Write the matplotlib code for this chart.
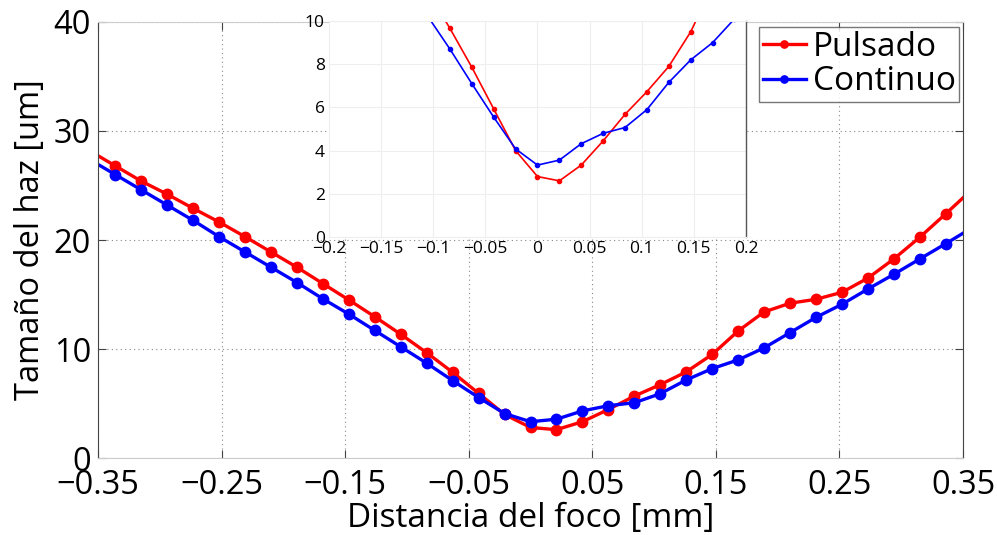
import matplotlib
matplotlib.use("Agg")
import matplotlib.pyplot as plt

plt.rcParams['font.family'] = ['Open Sans', 'DejaVu Sans']

# distance from focus [mm]
x_mm = [-0.357, -0.336, -0.315, -0.294, -0.273, -0.252, -0.231, -0.210, -0.189,
        -0.168, -0.147, -0.126, -0.105, -0.084, -0.063, -0.042, -0.021, 0.0,
        0.021, 0.042, 0.063, 0.084, 0.105, 0.126, 0.147, 0.168, 0.189, 0.210,
        0.231, 0.252, 0.273, 0.294, 0.315, 0.336, 0.357]

pulsado = [28.2, 26.8, 25.4, 24.2, 22.9, 21.65, 20.3, 18.9, 17.5,
           16.0, 14.5, 12.96, 11.35, 9.66, 7.86, 5.93, 4.0, 2.8,
           2.6, 3.33, 4.45, 5.68, 6.73, 7.9, 9.5, 11.65, 13.4, 14.2,
           14.56, 15.2, 16.5, 18.26, 20.25, 22.4, 24.6]

continuo = [27.4, 26.0, 24.6, 23.2, 21.8, 20.3, 18.9, 17.5, 16.1,
            14.6, 13.2, 11.7, 10.2, 8.7, 7.1, 5.55, 4.08, 3.33,
            3.56, 4.32, 4.8, 5.07, 5.9, 7.16, 8.2, 9.0, 10.1, 11.5,
            12.9, 14.1, 15.5, 16.85, 18.26, 19.66, 21.1]

main_xticks = [-0.35, -0.25, -0.15, -0.05, 0.05, 0.15, 0.25, 0.35]
main_xlabels = ['\u22120.35', '\u22120.25', '\u22120.15', '\u22120.05', '0.05', '0.15', '0.25', '0.35']
main_yticks = [0, 10, 20, 30, 40]

inset_xticks = [-0.2, -0.15, -0.1, -0.05, 0, 0.05, 0.1, 0.15, 0.2]
inset_xlabels = ['\u22120.2', '\u22120.15', '\u22120.1', '\u22120.05', '0', '0.05', '0.1', '0.15', '0.2']
inset_yticks = [0, 2, 4, 6, 8, 10]

fig = plt.figure(figsize=(9.97, 5.35), dpi=100)
ax = fig.add_axes([0.0983, 0.1439, 0.8676, 0.815])

ax.plot(x_mm, pulsado, '-o', color='#ff0000', lw=2.4, ms=7.5, label='Pulsado', clip_on=True)
ax.plot(x_mm, continuo, '-o', color='#0000ff', lw=2.4, ms=7.5, label='Continuo', clip_on=True)
ax.set_xlim(-0.35, 0.35)
ax.set_ylim(0, 40)
ax.set_xticks(main_xticks)
ax.set_xticklabels(main_xlabels)
ax.set_yticks(main_yticks)
ax.tick_params(direction='in', length=6, labelsize=23.5, top=True, right=True,
               color='#444444')
ax.tick_params(axis='x', pad=8)
ax.tick_params(axis='y', pad=5)
ax.grid(True, linestyle=(0, (1, 3)), color='#888888', lw=0.8)
for s in ['left', 'right']:
    ax.spines[s].set_color('#444444')
for s in ['top', 'bottom']:
    ax.spines[s].set_color('#cccccc')
ax.set_xlabel('Distancia del foco [mm]', fontsize=24, labelpad=0)
ax.set_ylabel('Tamaño del haz [um]', fontsize=23.5, labelpad=5)

leg = ax.legend(loc='upper right', bbox_to_anchor=(0.9954, 0.988), fontsize=24,
                frameon=True, fancybox=False, handlelength=1.3, handletextpad=0.2,
                borderpad=0.1, labelspacing=0.05, borderaxespad=0, markerscale=0.7)
leg.get_frame().set_edgecolor('#555555')
leg.get_frame().set_linewidth(1.0)
leg.set_zorder(20)

# inset
axi = fig.add_axes([0.330, 0.557, 0.4182, 0.4037])
axi.set_facecolor('white')
axi.plot(x_mm, pulsado, '-o', color='#ff0000', lw=1.2, ms=3)
axi.plot(x_mm, continuo, '-o', color='#0000ff', lw=1.2, ms=3)
axi.set_xlim(-0.2, 0.2)
axi.set_ylim(0, 10)
axi.set_xticks(inset_xticks)
axi.set_xticklabels(inset_xlabels)
axi.set_yticks(inset_yticks)
axi.tick_params(direction='in', length=0, labelsize=12.5, pad=3)
axi.grid(True, linestyle='-', color='#eeeeee', lw=0.8)
for s in ['left', 'top', 'bottom']:
    axi.spines[s].set_color('#eeeeee')
axi.spines['right'].set_color('#555555')
axi.spines['right'].set_linewidth(1.0)

fig.savefig('out.png', dpi=100)
